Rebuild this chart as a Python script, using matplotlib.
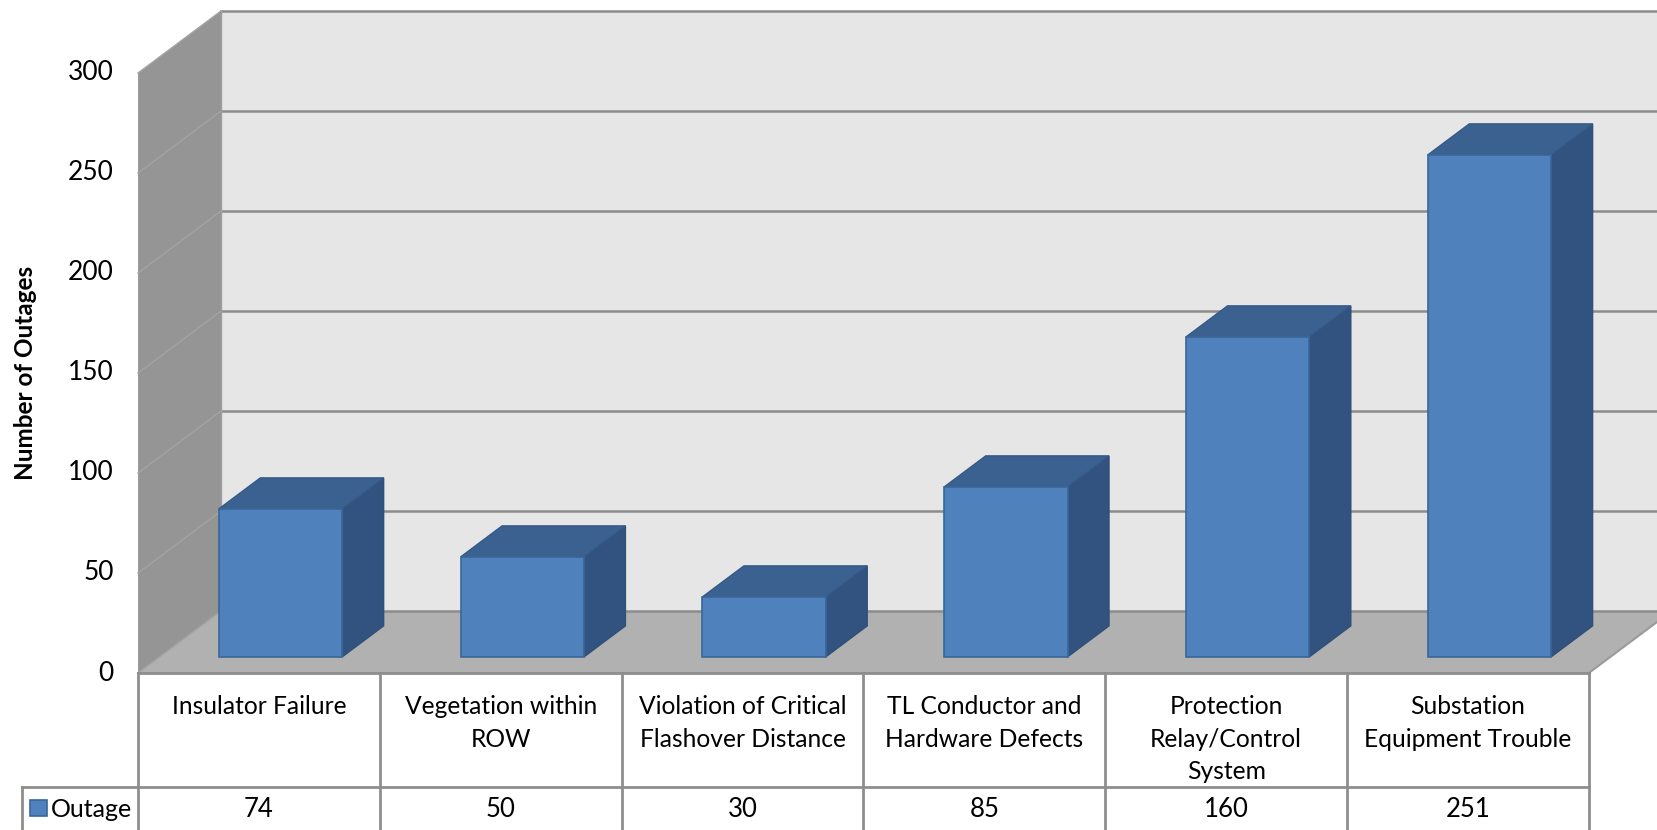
import numpy as np
import matplotlib.pyplot as plt
from matplotlib.patches import Polygon

plt.rcParams['font.family'] = ['Lato', 'DejaVu Sans']

categories = ["Insulator Failure", "Vegetation within\nROW", "Violation of Critical\nFlashover Distance",
              "TL Conductor and\nHardware Defects", "Protection\nRelay/Control\nSystem",
              "Substation\nEquipment Trouble"]
outages = [74, 50, 30, 85, 160, 251]
yticks = [0, 50, 100, 150, 200, 250, 300]
series_name = "Outage"

# oblique projection of the 3d box: depth d in [0, 1]
DX, DY = 0.343, 31.0
def P(x, d, v):
    return (x + d * DX, v + d * DY)

fig = plt.figure(figsize=(16.57, 8.30), dpi=100)
ax = fig.add_axes([0, 0, 1, 1])
ax.set_xlim(-0.571, 6.282)
ax.set_ylim(-78.5, 336.5)
ax.axis('off')

n = len(categories)
vmax = yticks[-1]

def poly(pts, fc, ec='none', lw=0, z=1):
    ax.add_patch(Polygon(pts, closed=True, facecolor=fc, edgecolor=ec, lw=lw, zorder=z))

# walls and floor
poly([P(0, 1, 0), P(n, 1, 0), P(n, 1, vmax), P(0, 1, vmax)], '#e6e6e6', z=1)
poly([P(0, 0, 0), P(0, 1, 0), P(0, 1, vmax), P(0, 0, vmax)], '#959595', z=1)
poly([P(0, 0, 0), P(n, 0, 0), P(n, 1, 0), P(0, 1, 0)], '#b1b1b1', z=1)

for v in yticks:
    a, b = P(0, 1, v), P(n, 1, v)
    ax.plot([a[0], b[0]], [a[1], b[1]], color='#8c8c8c', lw=1.8, zorder=2)
    c = P(0, 0, v)
    ax.plot([c[0], a[0]], [c[1], a[1]], color='#a3a3a3', lw=1.0, zorder=2)
    ax.text(-0.100, v, str(v), ha='right', va='center', fontsize=19, color='black')
a, b = P(0, 1, 0), P(0, 1, vmax)
ax.plot([a[0], b[0]], [a[1], b[1]], color='#a0a0a0', lw=1.0, zorder=2)
a, b = P(n, 0, 0), P(n, 1, 0)
ax.plot([a[0], b[0]], [a[1], b[1]], color='#9a9a9a', lw=1.5, zorder=2)

# bars
w, d0, d1 = 0.51, 0.26, 0.76
for i, h in enumerate(outages):
    x0 = i + 0.5 - w / 2
    x1 = x0 + w
    poly([P(x1, d0, 0), P(x1, d1, 0), P(x1, d1, h), P(x1, d0, h)], '#325380', '#2f5077', 1.0, z=3)
    poly([P(x0, d0, h), P(x1, d0, h), P(x1, d1, h), P(x0, d1, h)], '#3b6190', '#355a88', 1.0, z=3)
    poly([P(x0, d0, 0), P(x1, d0, 0), P(x1, d0, h), P(x0, d0, h)], '#4f81bd', '#3a6698', 1.2, z=4)

ax.text(-0.467, 150, "Number of Outages", rotation=90, ha='center', va='center',
        fontsize=17.5, fontweight='bold')

# data table
line_kw = dict(color='#8e8e8e', lw=2.0, zorder=5)
row_top, row_mid, row_bot = 0, -57, -80
ax.plot([0, n], [row_top, row_top], **line_kw)
ax.plot([-0.480, n], [row_mid, row_mid], **line_kw)
for k in range(n + 1):
    ax.plot([k, k], [row_top, row_bot], **line_kw)
ax.plot([-0.480, -0.480], [row_mid, row_bot], **line_kw)

for i, (cat, val) in enumerate(zip(categories, outages)):
    ax.text(i + 0.5, -11, cat, ha='center', va='top', fontsize=17.7, linespacing=1.5)
    ax.text(i + 0.5, -68, str(val), ha='center', va='center', fontsize=18.5)

ax.add_patch(plt.Rectangle((-0.446, -71.5), 0.070, 8, facecolor='#4f81bd',
                           edgecolor='#3a6698', lw=1.2, zorder=6))
ax.text(-0.360, -68, series_name, ha='left', va='center', fontsize=18)

fig.savefig("out.png", dpi=100)
